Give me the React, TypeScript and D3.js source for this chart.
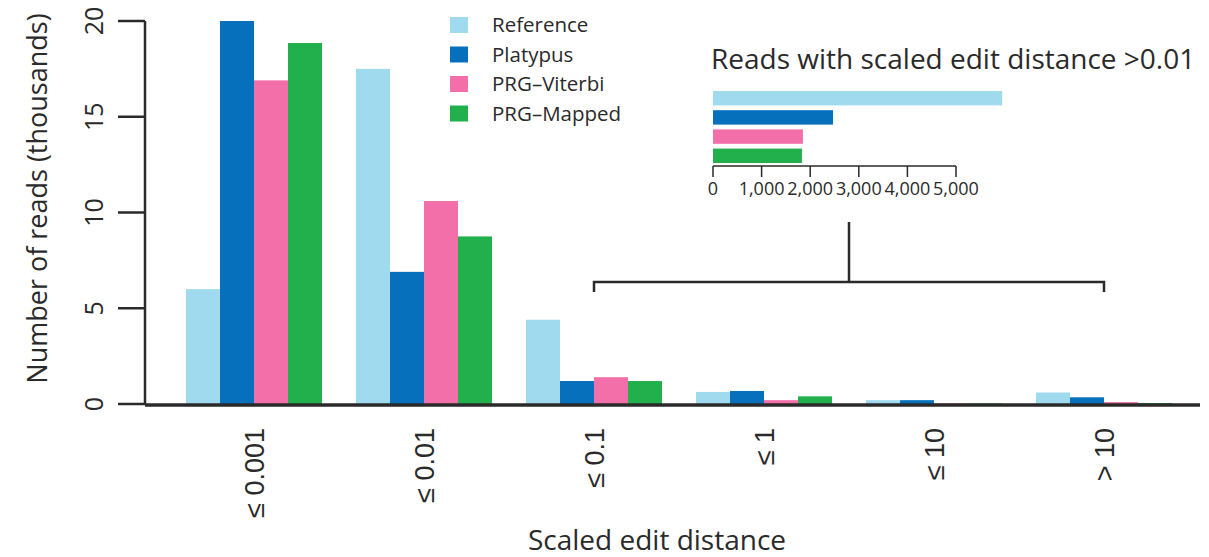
import React from "react";
import * as d3 from "d3";

const categories = ["\u2264 0.001", "\u2264 0.01", "\u2264 0.1", "\u2264 1", "\u2264 10", "> 10"];
const seriesNames = ["Reference", "Platypus", "PRG\u2013Viterbi", "PRG\u2013Mapped"];
const seriesColors = ["#a0daee", "#0670bd", "#f26fa9", "#21b04c"];
const referenceVals = [6.0, 17.5, 4.4, 0.63, 0.2, 0.6];
const platypusVals = [20.0, 6.9, 1.2, 0.68, 0.2, 0.35];
const viterbiVals = [16.9, 10.6, 1.4, 0.2, 0.03, 0.1];
const mappedVals = [18.85, 8.75, 1.2, 0.4, 0.03, 0.05];
const yTicks = [0, 5, 10, 15, 20];
const insetVals = [5950, 2470, 1850, 1830];
const insetTicks = [0, 1000, 2000, 3000, 4000, 5000];

export default function App() {
  const W = 1209, H = 557;
  const allSeries = [referenceVals, platypusVals, viterbiVals, mappedVals];
  const y = d3.scaleLinear().domain([0, 20]).range([404, 21]);
  const xg = d3.scaleBand<string>().domain(categories).range([186, 1172]).paddingInner(0.2).paddingOuter(0);
  const xs = d3.scaleBand<string>().domain(seriesNames).range([0, xg.bandwidth()]).padding(0);
  const xi = d3.scaleLinear().domain([0, 5000]).range([713, 956]);
  const yi = d3.scaleBand<string>().domain(seriesNames).range([91, 163]).paddingInner(0.25).paddingOuter(0);
  const fmt = d3.format(",");
  const myriad = "'Open Sans', Lato, sans-serif";
  const arial = "'Liberation Sans', Arial, sans-serif";
  const ink = "#2a2a2a";

  const bStart = xg(categories[2])! + xs.bandwidth() * 2;
  const bEnd = xg(categories[5])! + xs.bandwidth() * 2;
  const bMid = (bStart + bEnd) / 2;

  return (
    <svg width={W} height={H} style={{ position: "absolute", left: 0, top: 0, background: "#fff" }}>
      {categories.map((c, i) => (
        <g key={c}>
          {allSeries.map((vals, j) => (
            <rect key={j} x={xg(c)! + xs(seriesNames[j])!} y={y(vals[i])} width={xs.bandwidth()}
              height={404 - y(vals[i])} fill={seriesColors[j]} />
          ))}
        </g>
      ))}
      <line x1={145} x2={145} y1={y(20)} y2={y(0)} stroke={ink} strokeWidth={2.5} />
      {yTicks.map(t => (
        <g key={t}>
          <line x1={118} x2={145} y1={y(t)} y2={y(t)} stroke={ink} strokeWidth={2.5} />
          <text transform={`translate(103,${y(t)}) rotate(-90)`} textAnchor="middle" fontFamily={myriad}
            fontSize={25} fill={ink}>{t}</text>
        </g>
      ))}
      <text transform={`translate(47,${(10 + 387) / 2}) rotate(-90)`} textAnchor="middle" fontFamily={myriad}
        fontSize={27} fill={ink}>Number of reads (thousands)</text>
      <line x1={145} x2={1200} y1={405} y2={405} stroke={ink} strokeWidth={3.5} />
      {categories.map(c => (
        <text key={c} transform={`translate(${xg(c)! + xg.bandwidth() / 2},428) rotate(-90)`} textAnchor="end"
          dy="0.36em" fontFamily={arial} fontSize={27} fill={ink}>{c}</text>
      ))}
      <text x={657} y={550} textAnchor="middle" fontFamily={myriad} fontSize={28} fill={ink}>Scaled edit distance</text>
      {seriesNames.map((s, j) => (
        <g key={s} transform={`translate(450,${25 + j * 29.5})`}>
          <rect x={0} y={-8} width={18} height={16} fill={seriesColors[j]} />
          <text x={42} y={0} dy="0.35em" fontFamily={myriad} fontSize={20.5} fill={ink}>{s}</text>
        </g>
      ))}
      <path d={`M${bStart},292 V282 H${bEnd} V292 M${bMid},282 V222`} fill="none" stroke={ink} strokeWidth={2.5} />
      <text x={711} y={69} fontFamily={myriad} fontSize={28} fill={ink}>Reads with scaled edit distance &gt;0.01</text>
      {seriesNames.map((s, j) => (
        <rect key={s} x={xi(0)} y={yi(s)!} width={xi(insetVals[j]) - xi(0)} height={yi.bandwidth()} fill={seriesColors[j]} />
      ))}
      <line x1={xi(0)} x2={xi(5000)} y1={166} y2={166} stroke={ink} strokeWidth={1.5} />
      {insetTicks.map(t => (
        <g key={t}>
          <line x1={xi(t)} x2={xi(t)} y1={166} y2={177} stroke={ink} strokeWidth={1.5} />
          <text x={xi(t)} y={195} textAnchor="middle" fontFamily={myriad} fontSize={18} fill={ink}>{fmt(t)}</text>
        </g>
      ))}
    </svg>
  );
}
